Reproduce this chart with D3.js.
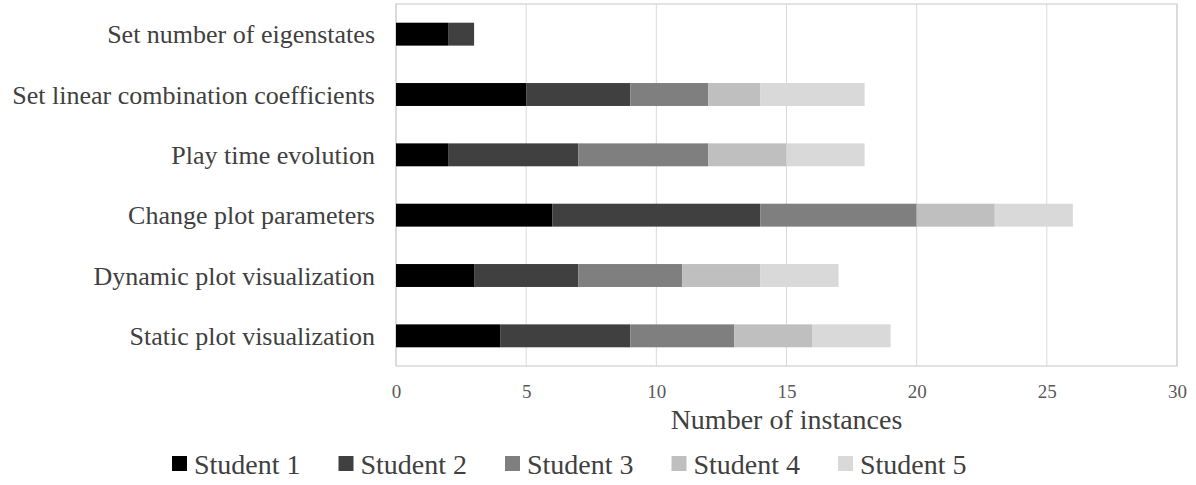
<!DOCTYPE html>
<html>
<head>
<meta charset="utf-8">
<script src="https://cdn.jsdelivr.net/npm/d3@7"></script>
<style>
body{margin:0;background:#fff;}
svg text{font-family:"Liberation Serif","Times New Roman",serif;}
</style>
</head>
<body>
<svg id="chart" width="1196" height="485"></svg>
<script>
//data
var categories = ["Set number of eigenstates","Set linear combination coefficients","Play time evolution","Change plot parameters","Dynamic plot visualization","Static plot visualization"];
var seriesNames = ["Student 1","Student 2","Student 3","Student 4","Student 5"];
var student1 = [2,5,2,6,3,4];
var student2 = [1,4,5,8,4,5];
var student3 = [0,3,5,6,4,4];
var student4 = [0,2,3,3,3,3];
var student5 = [0,4,3,3,3,3];
var xTicks = [0,5,10,15,20,25,30];
var colors = ["#000000","#404040","#7f7f7f","#bfbfbf","#d9d9d9"];

//layout
var plotLeft = 396, plotRight = 1177, plotTop = 4, plotBottom = 366;
var svg = d3.select("#chart");

var x = d3.scaleLinear().domain([0,30]).range([plotLeft,plotRight]);
var y = d3.scaleBand().domain(categories).range([plotTop,plotBottom]).paddingInner(0.62).paddingOuter(0.31);

//gridlines
svg.append("g").selectAll("line")
	.data(xTicks)
	.enter().append("line")
	.attr("x1", d => x(d)).attr("x2", d => x(d))
	.attr("y1", plotTop).attr("y2", plotBottom)
	.attr("stroke", "#d9d9d9").attr("stroke-width", 1);

//plot border
svg.append("rect")
	.attr("x", plotLeft).attr("y", plotTop)
	.attr("width", plotRight-plotLeft).attr("height", plotBottom-plotTop)
	.attr("fill", "none").attr("stroke", "#d0d0d0").attr("stroke-width", 1.2);

//stack the data
var rows = categories.map(function(c,i){
	return {cat:c, "Student 1":student1[i], "Student 2":student2[i], "Student 3":student3[i], "Student 4":student4[i], "Student 5":student5[i]};
});
var stacked = d3.stack().keys(seriesNames)(rows);

svg.append("g").selectAll("g")
	.data(stacked)
	.enter().append("g")
	.attr("fill", (d,i) => colors[i])
	.selectAll("rect")
	.data(d => d)
	.enter().append("rect")
	.attr("x", d => x(d[0]))
	.attr("width", d => x(d[1]) - x(d[0]))
	.attr("y", d => y(d.data.cat))
	.attr("height", y.bandwidth());

//category labels
svg.append("g").selectAll("text")
	.data(categories)
	.enter().append("text")
	.attr("x", 375)
	.attr("y", d => y(d) + y.bandwidth()/2)
	.attr("dy", "0.35em")
	.attr("text-anchor", "end")
	.attr("font-size", 26)
	.attr("fill", "#404040")
	.text(d => d);

//x axis
var xAxis = d3.axisBottom(x).tickValues(xTicks).tickSize(0).tickPadding(19);
var gx = svg.append("g").attr("transform", `translate(0,${plotBottom})`).call(xAxis);
gx.select(".domain").remove();
gx.selectAll("text")
	.attr("font-family", "Liberation Serif")
	.attr("font-size", 19)
	.attr("fill", "#595959");

//axis title
svg.append("text")
	.attr("x", (plotLeft+plotRight)/2)
	.attr("y", 429)
	.attr("text-anchor", "middle")
	.attr("font-size", 28)
	.attr("fill", "#404040")
	.text("Number of instances");

//legend
var legend = svg.append("g").selectAll("g")
	.data(seriesNames)
	.enter().append("g")
	.attr("transform", (d,i) => `translate(${172 + i*166.5},464)`);

legend.append("rect")
	.attr("x", 0).attr("y", -8)
	.attr("width", 15).attr("height", 15)
	.attr("fill", (d,i) => colors[i]);

legend.append("text")
	.attr("x", 22).attr("y", 0)
	.attr("dy", "0.35em")
	.attr("font-size", 28)
	.attr("fill", "#404040")
	.text(d => d);
</script>
</body>
</html>
